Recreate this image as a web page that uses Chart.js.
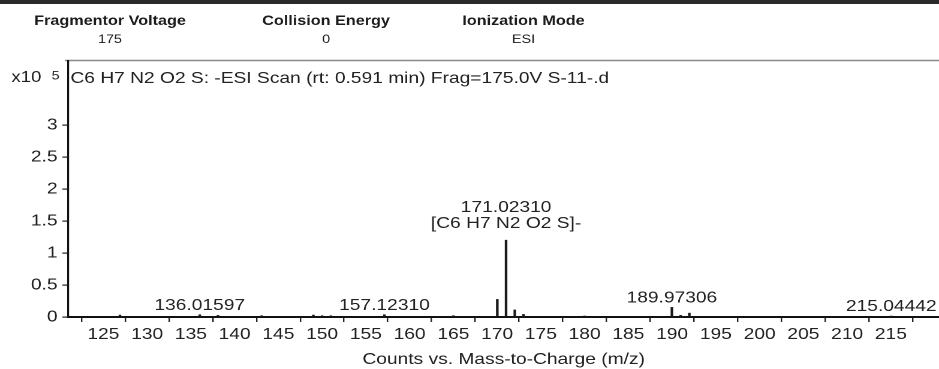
<!DOCTYPE html>
<html>
<head>
<meta charset="utf-8">
<script src="https://cdn.jsdelivr.net/npm/chart.js@4/dist/chart.umd.min.js"></script>
<style>
  html, body { margin: 0; padding: 0; background: #fff; overflow: hidden; }
  #wrap {
    position: absolute; left: 0; top: 0;
    width: 783px; height: 369px;
    transform: scaleX(1.19923); transform-origin: 0 0;
  }
</style>
</head>
<body>
<div id="wrap"><canvas id="spec"></canvas></div>
<script>
// Spectrum peaks: m/z and abundance (x10^5 counts)
const peakMz        = [126.9, 136.01597, 138.1, 143.1, 149.0, 150.0, 151.0, 157.12310, 165.0,
                       170.02, 171.02310, 172.02, 173.02, 180.0, 189.97306, 190.97, 191.97, 215.04442];
const peakIntensity = [0.03, 0.035, 0.025, 0.02, 0.03, 0.02, 0.02, 0.035, 0.02,
                       0.275, 1.20, 0.11, 0.04, 0.015, 0.15, 0.025, 0.06, 0.015];

// Annotated peaks and their extra label lines
const labeledMz      = [136.01597, 157.12310, 171.02310, 189.97306, 215.04442];
const labeledExtra   = ['', '', '[C6 H7 N2 O2 S]-', '', ''];

// Axis ticks
const xTickValues = [125, 130, 135, 140, 145, 150, 155, 160, 165, 170, 175, 180, 185, 190, 195, 200, 205, 210, 215, 220];
const yTickValues = [0, 0.5, 1, 1.5, 2, 2.5, 3];

// Header fields
const headerTitles = ['Fragmentor Voltage', 'Collision Energy', 'Ionization Mode'];
const headerValues = ['175', '0', 'ESI'];
const scanTitle = 'C6 H7 N2 O2 S: -ESI Scan (rt: 0.591 min) Frag=175.0V S-11-.d';

const FONT = "'Liberation Sans', Arial, sans-serif";
const TEXT = '#222';

const decor = {
  id: 'decor',
  beforeDraw(chart) {
    const ctx = chart.ctx, a = chart.chartArea;
    ctx.save();
    ctx.fillStyle = '#fff';
    ctx.fillRect(0, 0, chart.width, chart.height);
    // top rule
    ctx.fillStyle = '#2a2a2a';
    ctx.fillRect(0, 0, chart.width, 4);
    // header fields
    const hx = [91.7, 271.9, 436.5];
    ctx.textAlign = 'center';
    ctx.textBaseline = 'alphabetic';
    ctx.fillStyle = '#1c1c1c';
    headerTitles.forEach((t, i) => {
      ctx.font = 'bold 13.5px ' + FONT;
      ctx.fillText(t, hx[i], 25);
      ctx.font = '12px ' + FONT;
      ctx.fillText(headerValues[i], hx[i], 43);
    });
    // frame top line
    ctx.strokeStyle = '#8a8a8a';
    ctx.lineWidth = 1.5;
    ctx.beginPath();
    ctx.moveTo(54, a.top - 0.5);
    ctx.lineTo(chart.width, a.top - 0.5);
    ctx.stroke();
    ctx.restore();
  },
  afterDraw(chart) {
    const ctx = chart.ctx, a = chart.chartArea;
    ctx.save();
    ctx.fillStyle = TEXT;
    ctx.textBaseline = 'alphabetic';
    ctx.textAlign = 'left';
    ctx.font = '15.5px ' + FONT;
    ctx.fillText('x10', 9.5, 82);
    ctx.font = '12px ' + FONT;
    ctx.fillText('5', 43, 79.3);
    ctx.font = '16px ' + FONT;
    ctx.fillText(scanTitle, a.left + 1.7, 83);
    ctx.restore();
  }
};

const peakLabels = {
  id: 'peakLabels',
  afterDatasetsDraw(chart) {
    const ctx = chart.ctx, xs = chart.scales.x, ys = chart.scales.y;
    ctx.save();
    ctx.fillStyle = TEXT;
    ctx.font = '16px ' + FONT;
    ctx.textAlign = 'center';
    ctx.textBaseline = 'alphabetic';
    labeledMz.forEach((mz, i) => {
      const idx = peakMz.indexOf(mz);
      const lines = [mz.toFixed(5)];
      if (labeledExtra[i]) lines.push(labeledExtra[i]);
      const px = xs.getPixelForValue(mz);
      const py = ys.getPixelForValue(peakIntensity[idx]);
      const gap = lines.length > 1 ? 12 : 5;
      for (let k = lines.length - 1, j = 0; k >= 0; k--, j++) {
        ctx.fillText(lines[k], px, py - gap - j * 16);
      }
    });
    ctx.restore();
  }
};

new Chart(document.getElementById('spec'), {
  type: 'bar',
  data: {
    datasets: [{
      data: peakMz.map((m, i) => ({ x: m, y: peakIntensity[i] })),
      backgroundColor: '#1a1a1a',
      borderWidth: 0,
      barThickness: 1.5,
      grouped: false
    }]
  },
  options: {
    responsive: true,
    maintainAspectRatio: false,
    devicePixelRatio: 2,
    animation: false,
    layout: { padding: { top: 61, left: 0, right: 0, bottom: 0 } },
    plugins: { legend: { display: false }, tooltip: { enabled: false } },
    scales: {
      x: {
        type: 'linear',
        min: 121,
        max: 220.5,
        offset: false,
        afterFit: s => { s.height = 52; },
        afterBuildTicks: s => { s.ticks = xTickValues.map(v => ({ value: v })); },
        grid: { display: true, drawOnChartArea: false, drawTicks: true, tickLength: 5, color: '#222', lineWidth: 1.2 },
        border: { display: true, color: '#111', width: 2 },
        ticks: {
          autoSkip: false, maxRotation: 0, padding: 3,
          color: TEXT, font: { family: FONT, size: 16 },
          callback: v => (v <= 215 ? String(v) : '')
        },
        title: { display: true, text: 'Counts vs. Mass-to-Charge (m/z)', color: TEXT,
                 font: { family: FONT, size: 16 }, padding: 0 }
      },
      y: {
        min: 0,
        max: 4,
        afterFit: s => { s.width = 57; },
        afterBuildTicks: s => { s.ticks = yTickValues.map(v => ({ value: v })); },
        grid: { display: true, drawOnChartArea: false, drawTicks: true, tickLength: 5, color: '#222', lineWidth: 1.2 },
        border: { display: true, color: '#111', width: 1.6 },
        ticks: { padding: 4, color: TEXT, font: { family: FONT, size: 16 }, callback: v => String(v) }
      }
    }
  },
  plugins: [decor, peakLabels]
});
</script>
</body>
</html>
